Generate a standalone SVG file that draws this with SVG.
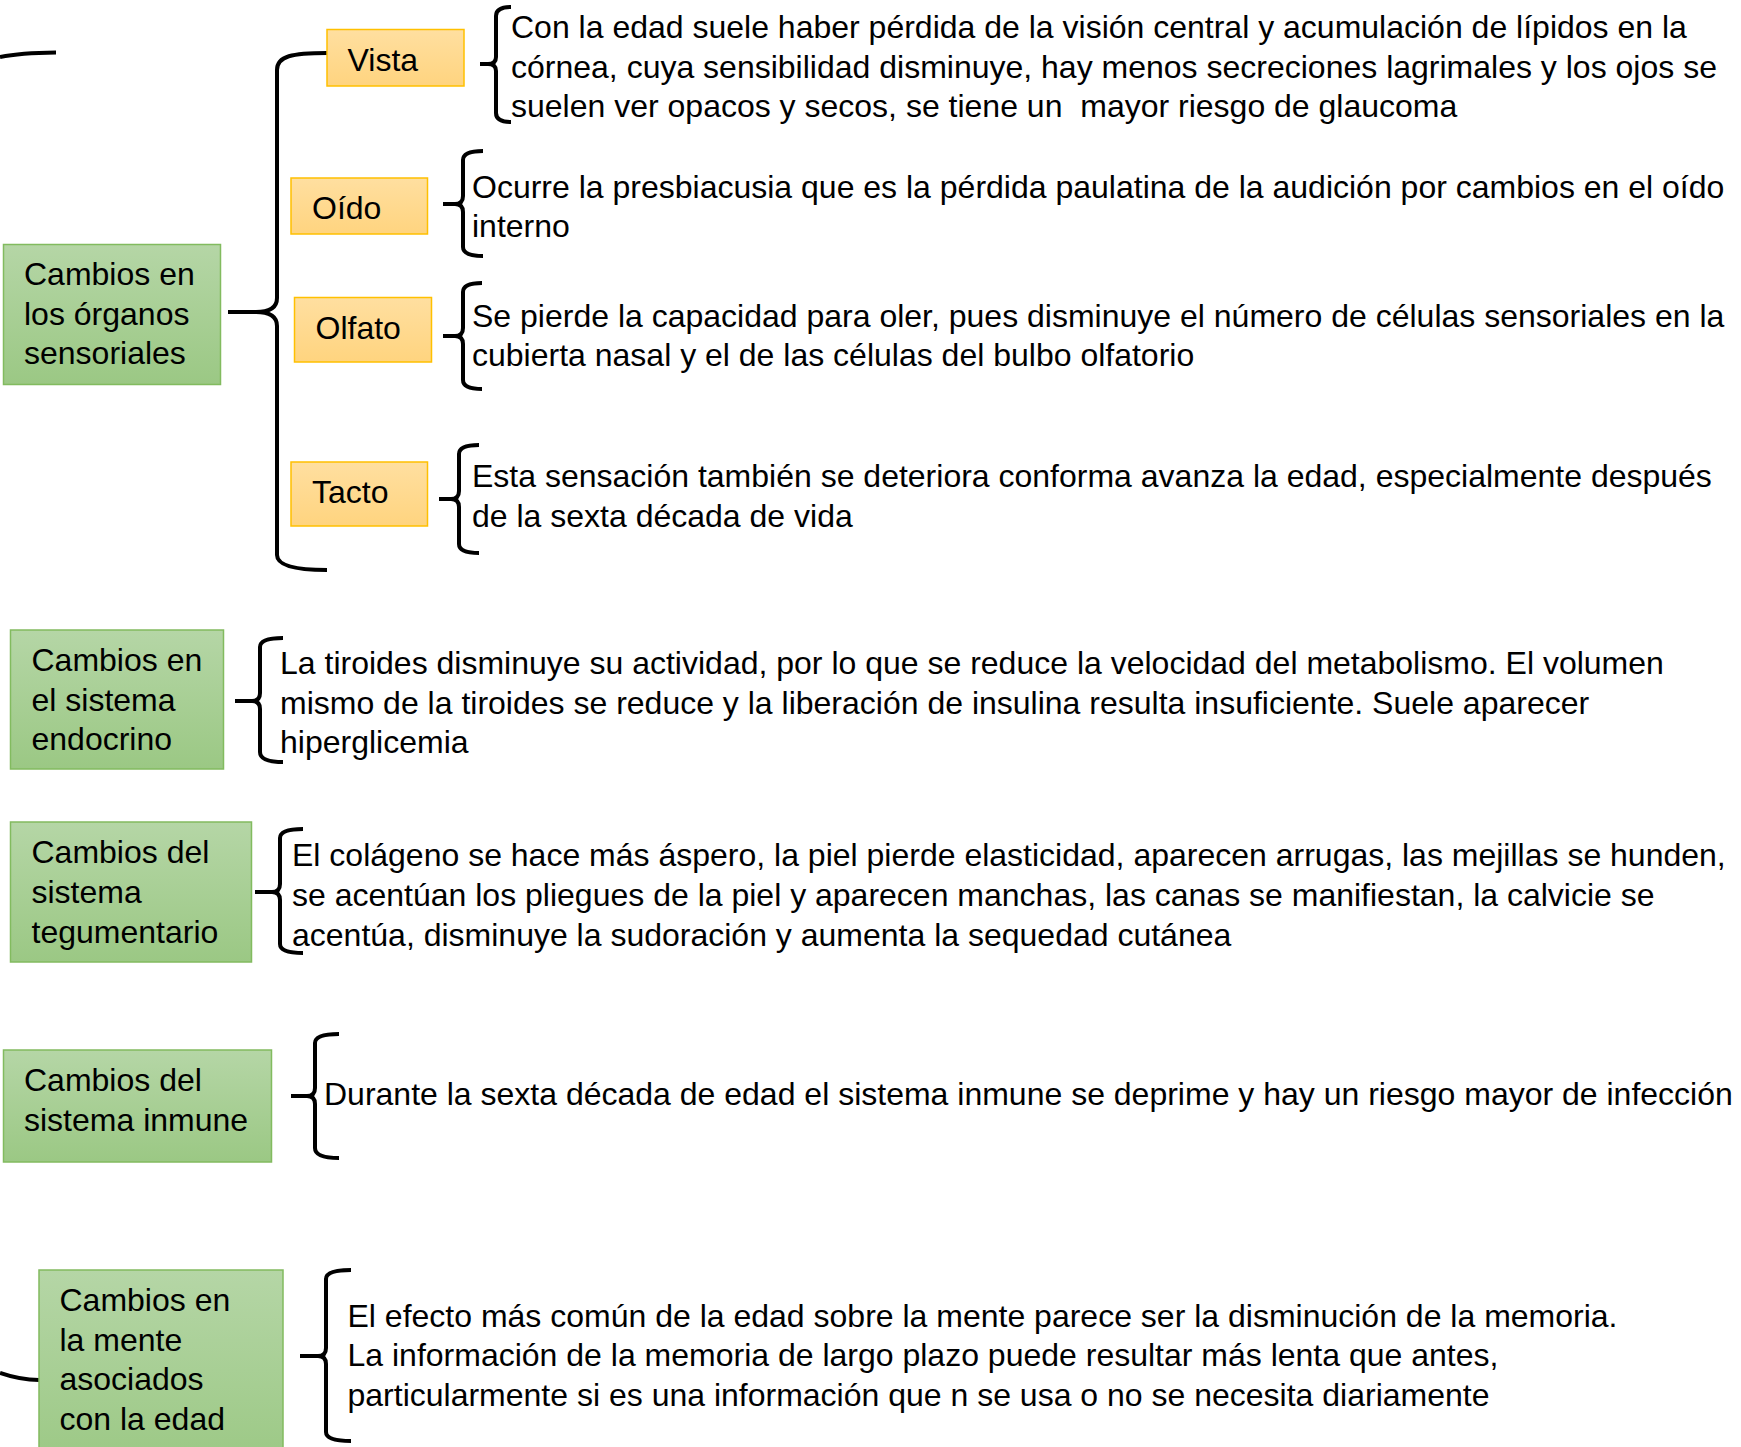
<svg xmlns="http://www.w3.org/2000/svg" width="1741" height="1447" viewBox="0 0 1741 1447">
<style>
text{font-family:"Liberation Sans",Arial,sans-serif;font-size:32px;fill:#000;white-space:pre}
.g{fill:url(#gg);stroke:#82bb5f;stroke-width:1.5}
.o{fill:url(#og);stroke:#ffc000;stroke-width:1.5}
.br{fill:none;stroke:#000;stroke-width:4;stroke-linecap:butt;stroke-linejoin:round}
</style>
<defs>
<linearGradient id="gg" x1="0" y1="0" x2="0" y2="1"><stop offset="0" stop-color="#b5d6a6"/><stop offset="1" stop-color="#9bc884"/></linearGradient>
<linearGradient id="og" x1="0" y1="0" x2="0" y2="1"><stop offset="0" stop-color="#ffdfa0"/><stop offset="1" stop-color="#ffd47f"/></linearGradient>
</defs>
<rect width="1741" height="1447" fill="#fff"/>
<g id="connectors">
<path class="br" d="M0,57 Q20,53 56,52.5"/>
<path class="br" d="M0,1373 Q20,1380 39,1380"/>
<path class="br" d="M327,53 C292,53 277,56 277,70 V298 Q277,312 256,312 H228 M256,312 Q277,312 277,326 V555 Q277,570 327,570"/>
<path class="br" d="M511,7 Q496,7 496,16 V57 Q496,64 488,64 H480 M488,64 Q496,64 496,71 V113 Q496,122 511,122"/>
<path class="br" d="M483,151 Q463,151 463,160 V196 Q463,204 455,204 H443 M455,204 Q463,204 463,212 V247 Q463,256 483,256"/>
<path class="br" d="M482,283 Q463,283 463,292 V328 Q463,336 455,336 H443 M455,336 Q463,336 463,344 V380 Q463,389 482,389"/>
<path class="br" d="M479,445 Q459,445 459,454 V491 Q459,499 451,499 H439 M451,499 Q459,499 459,507 V544 Q459,553 479,553"/>
<path class="br" d="M283,638 Q260,638 260,647 V693 Q260,701 252,701 H235 M252,701 Q260,701 260,709 V752 Q260,762 283,762"/>
<path class="br" d="M303,829 Q280,829 280,838 V884 Q280,892 272,892 H255 M272,892 Q280,892 280,900 V944 Q280,953 303,953"/>
<path class="br" d="M339,1034 Q315,1034 315,1043 V1088 Q315,1096 307,1096 H291 M307,1096 Q315,1096 315,1104 V1148 Q315,1158 339,1158"/>
<path class="br" d="M351,1270 Q326,1270 326,1279 V1348 Q326,1356 318,1356 H300 M318,1356 Q326,1356 326,1364 V1432 Q326,1441 351,1441"/>
</g>
<g id="n-sensoriales">
<rect class="g" x="3.5" y="244.5" width="217" height="140"/>
<text x="24" y="285">Cambios en</text>
<text x="24" y="325">los órganos</text>
<text x="24" y="364">sensoriales</text>
</g>
<g id="n-vista">
<rect class="o" x="327" y="29.5" width="137" height="56.5"/>
<text x="347.5" y="70.5">Vista</text>
</g>
<g id="n-oido">
<rect class="o" x="291" y="178" width="136.5" height="56"/>
<text x="312" y="218.5">Oído</text>
</g>
<g id="n-olfato">
<rect class="o" x="294.5" y="297.5" width="137" height="64.5"/>
<text x="315.5" y="338.5">Olfato</text>
</g>
<g id="n-tacto">
<rect class="o" x="291" y="462" width="136.5" height="64"/>
<text x="312" y="502.5">Tacto</text>
</g>
<g id="d-vista">
<text x="511" y="38">Con la edad suele haber pérdida de la visión central y acumulación de lípidos en la</text>
<text x="511" y="78">córnea, cuya sensibilidad disminuye, hay menos secreciones lagrimales y los ojos se</text>
<text x="511" y="117">suelen ver opacos y secos, se tiene un  mayor riesgo de glaucoma</text>
</g>
<g id="d-oido">
<text x="472" y="198">Ocurre la presbiacusia que es la pérdida paulatina de la audición por cambios en el oído</text>
<text x="472" y="237">interno</text>
</g>
<g id="d-olfato">
<text x="472" y="327">Se pierde la capacidad para oler, pues disminuye el número de células sensoriales en la</text>
<text x="472" y="366">cubierta nasal y el de las células del bulbo olfatorio</text>
</g>
<g id="d-tacto">
<text x="472" y="487">Esta sensación también se deteriora conforma avanza la edad, especialmente después</text>
<text x="472" y="527">de la sexta década de vida</text>
</g>
<g id="n-endocrino">
<rect class="g" x="10.5" y="630" width="213" height="139"/>
<text x="31.5" y="671">Cambios en</text>
<text x="31.5" y="711">el sistema</text>
<text x="31.5" y="750">endocrino</text>
</g>
<g id="d-endocrino">
<text x="280" y="674">La tiroides disminuye su actividad, por lo que se reduce la velocidad del metabolismo. El volumen</text>
<text x="280" y="714">mismo de la tiroides se reduce y la liberación de insulina resulta insuficiente. Suele aparecer</text>
<text x="280" y="753">hiperglicemia</text>
</g>
<g id="n-tegumentario">
<rect class="g" x="10.5" y="822" width="241" height="140"/>
<text x="31.5" y="863">Cambios del</text>
<text x="31.5" y="903">sistema</text>
<text x="31.5" y="943">tegumentario</text>
</g>
<g id="d-tegumentario">
<text x="292" y="866">El colágeno se hace más áspero, la piel pierde elasticidad, aparecen arrugas, las mejillas se hunden,</text>
<text x="292" y="906">se acentúan los pliegues de la piel y aparecen manchas, las canas se manifiestan, la calvicie se</text>
<text x="292" y="946">acentúa, disminuye la sudoración y aumenta la sequedad cutánea</text>
</g>
<g id="n-inmune">
<rect class="g" x="3.5" y="1050" width="268" height="112"/>
<text x="24" y="1091">Cambios del</text>
<text x="24" y="1131">sistema inmune</text>
</g>
<g id="d-inmune">
<text x="324" y="1105">Durante la sexta década de edad el sistema inmune se deprime y hay un riesgo mayor de infección</text>
</g>
<g id="n-mente">
<rect class="g" x="39" y="1270" width="244" height="200"/>
<text x="59.5" y="1311">Cambios en</text>
<text x="59.5" y="1351">la mente</text>
<text x="59.5" y="1390">asociados</text>
<text x="59.5" y="1430">con la edad</text>
</g>
<g id="d-mente">
<text x="347.5" y="1327">El efecto más común de la edad sobre la mente parece ser la disminución de la memoria.</text>
<text x="347.5" y="1366">La información de la memoria de largo plazo puede resultar más lenta que antes,</text>
<text x="347.5" y="1406">particularmente si es una información que n se usa o no se necesita diariamente</text>
</g>
</svg>
